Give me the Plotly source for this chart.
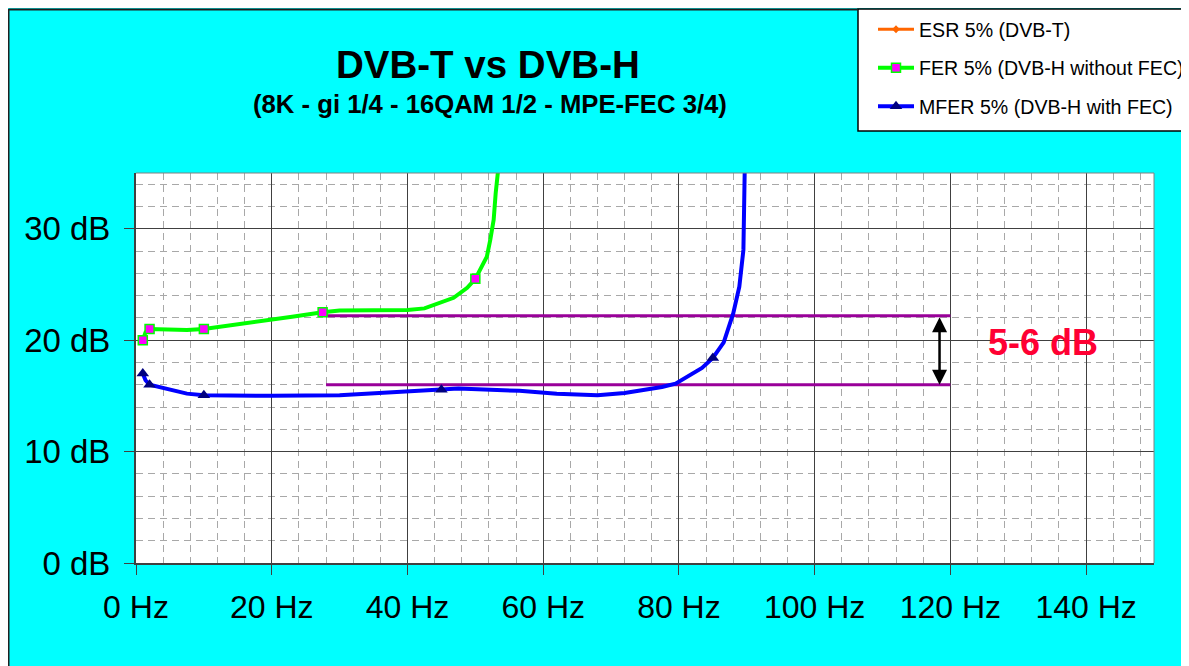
import plotly.graph_objects as go

# ---- data ----
fer_x = [1, 1.4, 2, 7.5, 10, 15, 20, 23, 27.5, 30, 40, 42.5, 46.8, 48.8, 50, 51.0, 51.7, 52.2, 52.7, 53.0, 53.4]
fer_y = [20.0, 20.7, 21.0, 20.9, 21.0, 21.4, 21.8, 22.1, 22.5, 22.65, 22.7, 22.85, 23.8, 24.7, 25.5, 26.6, 27.5, 29.0, 30.8, 33.2, 35.5]
fer_mx = [1, 2, 10, 27.5, 50]
fer_my = [20.0, 21.0, 21.0, 22.5, 25.5]

mfer_x = [1, 1.4, 2, 5, 7.5, 10, 20, 30, 40, 45, 47.5, 56.5, 62, 68, 72, 77.5, 79.5, 83.4, 85, 86.6, 88, 88.9, 89.5, 89.7]
mfer_y = [17.0, 16.4, 16.0, 15.6, 15.2, 15.05, 15.0, 15.05, 15.35, 15.55, 15.65, 15.45, 15.2, 15.05, 15.25, 15.8, 16.1, 17.5, 18.4, 19.8, 22.4, 24.8, 28.1, 35.5]
mfer_mx = [1, 2, 10, 45, 85]
mfer_my = [17.0, 16.0, 15.05, 15.55, 18.4]

# ESR (DVB-T) series has no visible values in the chart (legend entry only)
esr_x = [None]
esr_y = [None]

ref_x = [28, 120]
ref_hi = 22.2
ref_lo = 16.0
arrow_x = 118.4
gap_label = "5-6 dB"
gap_label_x = 133.6
gap_label_y = 19.75

x_ticks = [0, 20, 40, 60, 80, 100, 120, 140]
y_ticks = [0, 10, 20, 30]

title_text = "DVB-T vs DVB-H"
subtitle_text = "(8K - gi 1/4 - 16QAM 1/2 - MPE-FEC 3/4)"
names = ["ESR 5% (DVB-T)", "FER 5% (DVB-H without FEC)", "MFER 5% (DVB-H with FEC)"]

FONT = "Arial, Liberation Sans, sans-serif"


def gapped(xs, ys):
    gx, gy = [], []
    for a, b in zip(xs, ys):
        gx += [a, None]
        gy += [b, None]
    return gx, gy


fig = go.Figure()

# reference lines (purple)
for yv in (ref_hi, ref_lo):
    fig.add_trace(go.Scatter(x=ref_x, y=[yv, yv], mode="lines",
                             line=dict(color="#990099", width=3),
                             showlegend=False, hoverinfo="skip"))

# ESR (legend only)
fig.add_trace(go.Scatter(x=esr_x, y=esr_y, mode="lines+markers", name=names[0],
                         legendgroup="esr",
                         line=dict(color="#FF6600", width=3),
                         marker=dict(symbol="diamond", size=6, color="#FF6600")))

# FER
fig.add_trace(go.Scatter(x=fer_x, y=fer_y, mode="lines", legendgroup="fer",
                         showlegend=False, line=dict(color="#00FF00", width=4)))
gx, gy = gapped(fer_mx, fer_my)
fig.add_trace(go.Scatter(x=gx, y=gy, mode="lines+markers", name=names[1],
                         legendgroup="fer", connectgaps=False,
                         line=dict(color="#00FF00", width=4),
                         marker=dict(symbol="square", size=9, color="#FF00FF",
                                     line=dict(color="#00FF00", width=1.5))))

# MFER
fig.add_trace(go.Scatter(x=mfer_x, y=mfer_y, mode="lines", legendgroup="mfer",
                         showlegend=False, line=dict(color="#0000FF", width=4)))
gx, gy = gapped(mfer_mx, mfer_my)
fig.add_trace(go.Scatter(x=gx, y=gy, mode="lines+markers", name=names[2],
                         legendgroup="mfer", connectgaps=False,
                         line=dict(color="#0000FF", width=4),
                         marker=dict(symbol="triangle-up", size=11, color="#000080")))

W, H = 1181, 658
ML, MR, MT, MB = 128, 35, 165, 103


def px(xs):  # screenshot x -> paper
    return (xs - 136) / 1018.0


def py(ys):  # screenshot y -> paper
    return (563 - ys) / 390.0


axis_common = dict(
    showgrid=True, gridcolor="#404040", gridwidth=1,
    zeroline=False, showline=True, linecolor="#404040", linewidth=2,
    ticks="outside", ticklen=10, tickcolor="#404040", tickwidth=1,
)

fig.update_layout(
    width=W, height=H,
    margin=dict(l=ML, r=MR, t=MT, b=MB, autoexpand=False),
    paper_bgcolor="#00FFFF", plot_bgcolor="#FFFFFF",
    font=dict(family=FONT, color="#000000"),
    xaxis=dict(range=[0, 150], tickvals=x_ticks, ticktext=[f"{v} Hz" for v in x_ticks],
               tickfont=dict(family=FONT, size=32, color="#000000"),
               ticklabelstandoff=5,
               minor=dict(dtick=4, tick0=0, showgrid=True, gridcolor="#A8A8A8",
                          griddash="7px,5px", gridwidth=1),
               **axis_common),
    yaxis=dict(range=[0, 35], tickvals=y_ticks, ticktext=[f"{v} dB" for v in y_ticks],
               tickfont=dict(family=FONT, size=33, color="#000000"),
               ticklabelstandoff=7,
               minor=dict(dtick=2, tick0=0, showgrid=True, gridcolor="#A8A8A8",
                          griddash="7px,5px", gridwidth=1),
               **axis_common),
    showlegend=True,
    legend=dict(x=px(873), y=py(10), xanchor="left", yanchor="top",
                bgcolor="rgba(0,0,0,0)", borderwidth=0,
                font=dict(family=FONT, size=19.6, color="#000000"),
                traceorder="grouped", tracegroupgap=10, itemwidth=36),
    shapes=[
        # legend box
        dict(type="rect", xref="paper", yref="paper", x0=px(858), x1=px(1200),
             y0=py(131), y1=py(9), fillcolor="#FFFFFF",
             line=dict(color="#000000", width=1.5), layer="below"),
        # outer chart border (left, top)
        dict(type="line", xref="paper", yref="paper", x0=px(8.5), x1=px(8.5),
             y0=py(700), y1=py(9), line=dict(color="#202020", width=2)),
        dict(type="line", xref="paper", yref="paper", x0=px(8.5), x1=px(858),
             y0=py(9.5), y1=py(9.5), line=dict(color="#202020", width=2)),
        # plot-area frame (top/right)
        dict(type="line", xref="paper", yref="paper", x0=0, x1=1, y0=1, y1=1,
             line=dict(color="#808080", width=1)),
        dict(type="line", xref="paper", yref="paper", x0=1, x1=1, y0=0, y1=1,
             line=dict(color="#808080", width=1)),
    ],
    annotations=[
        dict(text=f"<b>{title_text}</b>", xref="paper", yref="paper",
             x=px(488), y=py(64), xanchor="center", yanchor="middle",
             showarrow=False, font=dict(family=FONT, size=38.5, color="#000000")),
        dict(text=f"<b>{subtitle_text}</b>", xref="paper", yref="paper",
             x=px(489.5), y=py(104), xanchor="center", yanchor="middle",
             showarrow=False, font=dict(family=FONT, size=25.7, color="#000000")),
        dict(text=f"<b>{gap_label}</b>", xref="x", yref="y",
             x=gap_label_x, y=gap_label_y, xanchor="center", yanchor="middle",
             showarrow=False, font=dict(family=FONT, size=36, color="#FF0033")),
        dict(x=arrow_x, y=ref_lo, ax=arrow_x, ay=ref_hi, xref="x", yref="y",
             axref="x", ayref="y", text="", showarrow=True,
             arrowhead=2, startarrowhead=2, arrowside="end+start",
             arrowsize=1.2, startarrowsize=1.2, arrowwidth=2.5, arrowcolor="#000000",
             standoff=0, startstandoff=0),
    ],
)

fig.write_html("out.html")
